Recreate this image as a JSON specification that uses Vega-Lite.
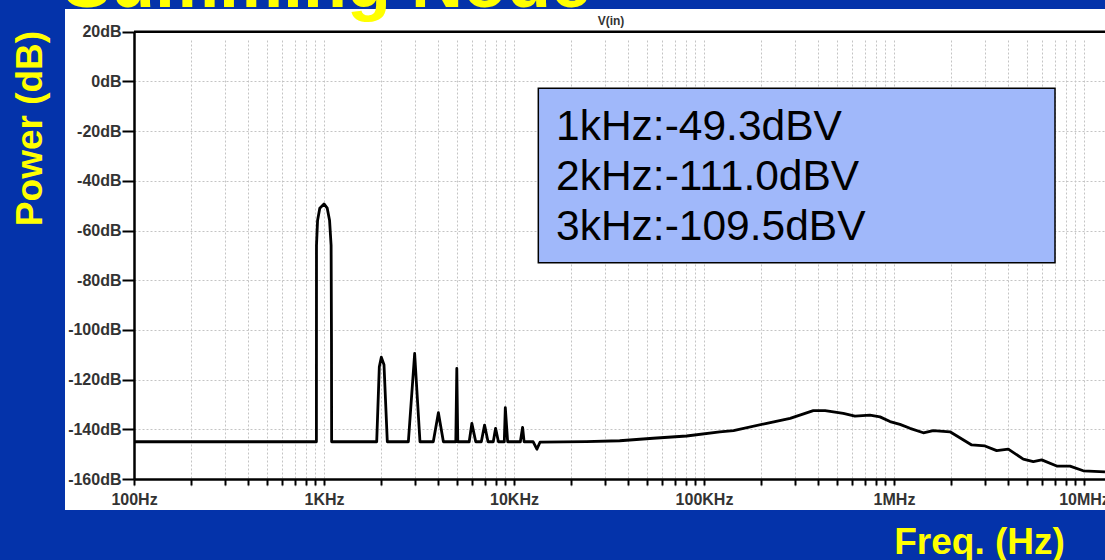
{
  "$schema": "https://vega.github.io/schema/vega-lite/v6.json",
  "autosize": "none",
  "width": 1040,
  "height": 501,
  "padding": {"left": 65, "top": 9, "right": 0, "bottom": 50},
  "config": {
    "background": "#0433AA",
    "view": {"fill": "white", "stroke": null},
    "font": "Liberation Sans"
  },
  "layer": [
    {
      "data": {"values": [
        {"f": 100, "db": -145}, {"f": 912, "db": -145}, {"f": 913, "db": -66}, {"f": 925, "db": -56}, {"f": 950, "db": -51}, {"f": 1000, "db": -49.3}, {"f": 1040, "db": -51}, {"f": 1070, "db": -56}, {"f": 1090, "db": -66}, {"f": 1095, "db": -105}, {"f": 1097, "db": -145},
        {"f": 1894, "db": -145}, {"f": 1955, "db": -114.8}, {"f": 2003, "db": -111}, {"f": 2069, "db": -114}, {"f": 2154, "db": -145},
        {"f": 2780, "db": -145}, {"f": 3000, "db": -109.5}, {"f": 3200, "db": -145},
        {"f": 3760, "db": -145}, {"f": 4000, "db": -133.3}, {"f": 4250, "db": -145},
        {"f": 4940, "db": -145}, {"f": 5000, "db": -115.5}, {"f": 5060, "db": -145},
        {"f": 5810, "db": -145}, {"f": 6000, "db": -137.6}, {"f": 6290, "db": -145},
        {"f": 6730, "db": -145}, {"f": 7000, "db": -138.3}, {"f": 7300, "db": -145},
        {"f": 7780, "db": -145}, {"f": 8000, "db": -139.6}, {"f": 8280, "db": -145},
        {"f": 8890, "db": -145}, {"f": 9000, "db": -131.3}, {"f": 9260, "db": -145},
        {"f": 10800, "db": -145}, {"f": 11100, "db": -139.2}, {"f": 11300, "db": -145},
        {"f": 12600, "db": -145}, {"f": 13200, "db": -148}, {"f": 13700, "db": -145.2},
        {"f": 24000, "db": -145}, {"f": 36000, "db": -144.6}, {"f": 54000, "db": -143.6}, {"f": 81000, "db": -142.7},
        {"f": 121000, "db": -141}, {"f": 143000, "db": -140.5}, {"f": 214000, "db": -137.6}, {"f": 284000, "db": -135.6},
        {"f": 376000, "db": -132.5}, {"f": 434000, "db": -132.5}, {"f": 541000, "db": -133.6}, {"f": 623000, "db": -134.7},
        {"f": 747000, "db": -134.3}, {"f": 844000, "db": -135}, {"f": 953000, "db": -136.9}, {"f": 1075000, "db": -138},
        {"f": 1214000, "db": -139.6}, {"f": 1427000, "db": -141.4}, {"f": 1610000, "db": -140.5}, {"f": 1971000, "db": -141},
        {"f": 2564000, "db": -146.3}, {"f": 3012000, "db": -146.7}, {"f": 3471000, "db": -148.6}, {"f": 3996000, "db": -148},
        {"f": 4792000, "db": -152}, {"f": 5410000, "db": -153}, {"f": 5990000, "db": -152.3}, {"f": 7184000, "db": -154.8},
        {"f": 8440000, "db": -154.8}, {"f": 9915000, "db": -156.7}, {"f": 12899000, "db": -157.1}
      ]},
      "mark": {"type": "line", "color": "black", "strokeWidth": 2.8, "strokeJoin": "round"},
      "encoding": {
        "x": {
          "field": "f", "type": "quantitative",
          "scale": {"type": "log", "domain": [100, 12899000], "range": [69, 1040], "nice": false},
          "axis": {
            "title": "Freq. (Hz)",
            "values": [100, 200, 300, 400, 500, 600, 700, 800, 900, 1000, 2000, 3000, 4000, 5000, 6000, 7000, 8000, 9000, 10000, 20000, 30000, 40000, 50000, 60000, 70000, 80000, 90000, 100000, 200000, 300000, 400000, 500000, 600000, 700000, 800000, 900000, 1000000, 2000000, 3000000, 4000000, 5000000, 6000000, 7000000, 8000000, 9000000, 10000000],
            "labelExpr": "datum.value == 100 ? '100Hz' : datum.value == 1000 ? '1KHz' : datum.value == 10000 ? '10KHz' : datum.value == 100000 ? '100KHz' : datum.value == 1000000 ? '1MHz' : datum.value == 10000000 ? '10MHz' : ''",
            "offset": -31,
            "domainColor": "black", "domainWidth": 2.5,
            "tickColor": "black", "tickWidth": 2, "tickSize": 6,
            "labelFont": "Liberation Sans", "labelFontWeight": "bold", "labelFontSize": 16, "labelColor": "#333333",
            "labelPadding": 6, "labelOverlap": false, "labelFlush": false,
            "grid": true, "gridColor": "#c4c4c4", "gridDash": [2, 2], "gridWidth": 1,
            "titleFont": "Liberation Sans", "titleFontWeight": "bold", "titleFontSize": 37, "titleColor": "#FFFF00",
            "titleX": 914, "titleY": 74, "titleAlign": "center", "titleBaseline": "alphabetic"
          }
        },
        "y": {
          "field": "db", "type": "quantitative",
          "scale": {"type": "linear", "domain": [-160, 20], "range": [470, 22.7], "nice": false, "zero": false},
          "axis": {
            "title": "Power (dB)",
            "values": [-160, -140, -120, -100, -80, -60, -40, -20, 0, 20],
            "labelExpr": "datum.value + 'dB'",
            "offset": -69,
            "domainColor": "black", "domainWidth": 2.5,
            "tickColor": "black", "tickWidth": 2, "tickSize": 12,
            "labelFont": "Liberation Sans", "labelFontWeight": "bold", "labelFontSize": 16, "labelColor": "#333333",
            "labelPadding": 1, "labelOverlap": false, "labelFlush": false,
            "grid": true, "gridColor": "#c4c4c4", "gridDash": [2, 2], "gridWidth": 1,
            "titleFont": "Liberation Sans", "titleFontWeight": "bold", "titleFontSize": 37, "titleColor": "#FFFF00",
            "titleAngle": 270, "titleX": -104, "titleY": 119, "titleAlign": "center", "titleBaseline": "middle"
          }
        }
      }
    },
    {
      "data": {"values": [{}]},
      "mark": {"type": "rule", "color": "black", "strokeWidth": 2.5},
      "encoding": {
        "x": {"datum": 100, "type": "quantitative", "scale": {"type": "log", "domain": [100, 12899000], "range": [69, 1040], "nice": false}},
        "x2": {"datum": 12899000},
        "y": {"datum": 20, "type": "quantitative", "scale": {"type": "linear", "domain": [-160, 20], "range": [470, 22.7], "nice": false, "zero": false}}
      }
    },
    {
      "data": {"values": [{}]},
      "mark": {"type": "rect", "fill": "#a0b8fa", "stroke": "black", "strokeWidth": 1.5},
      "encoding": {
        "x": {"datum": 13427, "type": "quantitative", "scale": {"type": "log", "domain": [100, 12899000], "range": [69, 1040], "nice": false}},
        "x2": {"datum": 7038000},
        "y": {"datum": -2.78, "type": "quantitative", "scale": {"type": "linear", "domain": [-160, 20], "range": [470, 22.7], "nice": false, "zero": false}},
        "y2": {"datum": -72.96}
      }
    },
    {
      "data": {"values": [{}]},
      "mark": {"type": "text", "text": ["1kHz:-49.3dBV", "2kHz:-111.0dBV", "3kHz:-109.5dBV"], "font": "Liberation Sans", "fontSize": 42.5, "lineHeight": 50, "align": "left", "baseline": "alphabetic", "color": "black"},
      "encoding": {
        "x": {"datum": 16640, "type": "quantitative", "scale": {"type": "log", "domain": [100, 12899000], "range": [69, 1040], "nice": false}},
        "y": {"datum": -23.6, "type": "quantitative", "scale": {"type": "linear", "domain": [-160, 20], "range": [470, 22.7], "nice": false, "zero": false}}
      }
    },
    {
      "data": {"values": [{}]},
      "mark": {"type": "text", "text": "V(in)", "font": "Liberation Sans", "fontSize": 12, "fontWeight": "bold", "align": "center", "baseline": "alphabetic", "color": "#333333"},
      "encoding": {
        "x": {"datum": 32400, "type": "quantitative", "scale": {"type": "log", "domain": [100, 12899000], "range": [69, 1040], "nice": false}},
        "y": {"datum": 22.7, "type": "quantitative", "scale": {"type": "linear", "domain": [-160, 20], "range": [470, 22.7], "nice": false, "zero": false}}
      }
    },
    {
      "data": {"values": [{}]},
      "mark": {"type": "text", "text": "Summing Node", "font": "Liberation Sans", "fontSize": 72, "fontWeight": "bold", "align": "left", "baseline": "alphabetic", "color": "#FFFF00"},
      "encoding": {
        "x": {"datum": 42.3, "type": "quantitative", "scale": {"type": "log", "domain": [100, 12899000], "range": [69, 1040], "nice": false}},
        "y": {"datum": 29.9, "type": "quantitative", "scale": {"type": "linear", "domain": [-160, 20], "range": [470, 22.7], "nice": false, "zero": false}}
      }
    }
  ]
}
